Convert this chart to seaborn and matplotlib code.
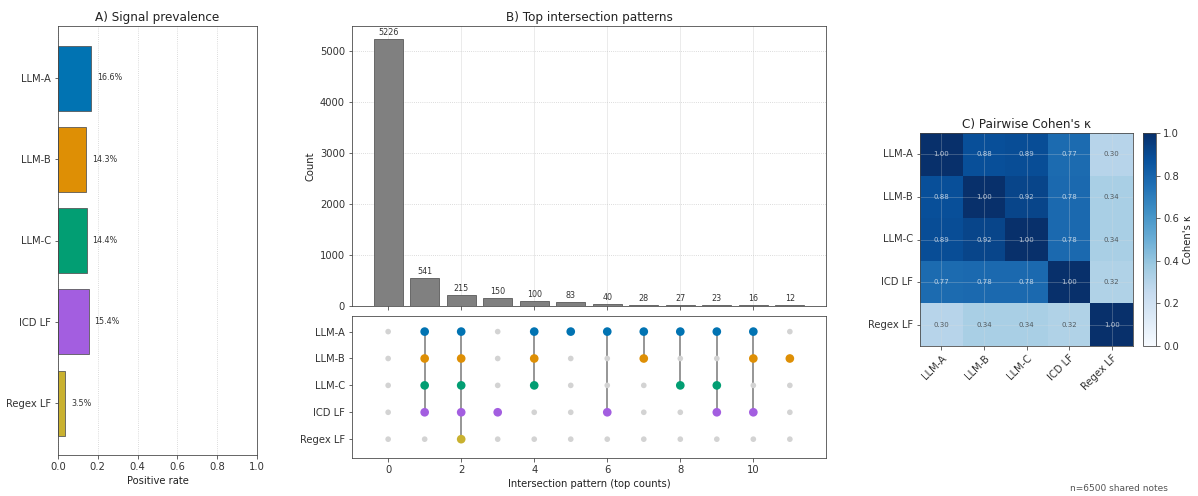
import numpy as np
import pandas as pd
import matplotlib
matplotlib.use("Agg")
import matplotlib.pyplot as plt
import seaborn as sns

# ---data---
signals = ["LLM-A", "LLM-B", "LLM-C", "ICD LF", "Regex LF"]
colors = ["#0173b2", "#de8f05", "#029e73", "#a35ee0", "#c9b12f"]
pos_rate = [0.166, 0.143, 0.144, 0.154, 0.035]

# top intersection patterns: counts and membership (rows = signals)
pattern_counts = [5226, 541, 215, 150, 100, 83, 40, 28, 27, 23, 16, 12]
pattern_members = [
    [],
    ["LLM-A", "LLM-B", "LLM-C", "ICD LF"],
    ["LLM-A", "LLM-B", "LLM-C", "ICD LF", "Regex LF"],
    ["ICD LF"],
    ["LLM-A", "LLM-B", "LLM-C"],
    ["LLM-A"],
    ["LLM-A", "ICD LF"],
    ["LLM-A", "LLM-B"],
    ["LLM-A", "LLM-C"],
    ["LLM-A", "LLM-C", "ICD LF"],
    ["LLM-A", "LLM-B", "ICD LF"],
    ["LLM-B"],
]

kappa = [
    [1.00, 0.88, 0.89, 0.77, 0.30],
    [0.88, 1.00, 0.92, 0.78, 0.34],
    [0.89, 0.92, 1.00, 0.78, 0.34],
    [0.77, 0.78, 0.78, 1.00, 0.32],
    [0.30, 0.34, 0.34, 0.32, 1.00],
]
n_notes = 6500

plt.rcParams.update({
    "font.family": "DejaVu Sans",
    "font.size": 10,
    "axes.edgecolor": "#444444",
    "axes.titlesize": 12,
    "axes.labelsize": 10,
    "xtick.labelsize": 10,
    "ytick.labelsize": 10,
    "xtick.color": "#444444",
    "ytick.color": "#444444",
    "xtick.labelcolor": "#333333",
    "ytick.labelcolor": "#333333",
    "text.color": "#222222",
    "axes.labelcolor": "#222222",
})

# pixel sized figure (72 dpi so point sizes == pixels)
W, H = 1198, 496
fig = plt.figure(figsize=(W / 72, H / 72), dpi=72)

def px_axes(x0, y0, x1, y1):
    return fig.add_axes([x0 / W, 1 - y1 / H, (x1 - x0) / W, (y1 - y0) / H])

#---Panel A: prevalence---
axA = px_axes(58, 26, 257, 455)
dfA = pd.DataFrame({"signal": signals, "rate": pos_rate})
sns.barplot(data=dfA, y="signal", x="rate", hue="signal", palette=colors, saturation=1,
            edgecolor="#555555", linewidth=0.8, width=0.8, legend=False, ax=axA)
for i, r in enumerate(pos_rate):
    axA.text(r + 0.03, i, f"{r*100:.1f}%", va="center", ha="left", fontsize=8, color="#333333")
axA.set_xlim(0, 1)
axA.set_ylim(4.64, -0.64)
axA.set_xlabel("Positive rate")
axA.set_ylabel("")
axA.set_title("A) Signal prevalence", pad=5)
axA.xaxis.grid(True, linestyle=":", color="#cccccc", linewidth=0.8)
axA.set_axisbelow(True)

#---Panel B: intersection bars---
axB = px_axes(352, 26, 826, 306)
axM = px_axes(352, 316, 826, 458)
npat = len(pattern_counts)
xs = np.arange(npat)
axB.bar(xs, pattern_counts, width=0.8, color="#808080", edgecolor="#555555", linewidth=0.8)
for x, c in zip(xs, pattern_counts):
    axB.text(x, c + 40, str(c), ha="center", va="bottom", fontsize=8, color="#333333")
axB.set_xlim(-0.99, 11.99)
axB.set_ylim(0, 5480)
axB.set_xticks(range(0, 11, 2))
axB.set_xticklabels([])
axB.set_ylabel("Count")
axB.set_title("B) Top intersection patterns", pad=5)
axB.yaxis.grid(True, linestyle=":", color="#cccccc", linewidth=0.8)
axB.xaxis.grid(True, color="#e6e6e6", linewidth=0.8)
axB.set_axisbelow(True)

# dot matrix
rows = []
for j, members in enumerate(pattern_members):
    for i, s in enumerate(signals):
        rows.append({"pattern": j, "row": i, "signal": s, "on": s in members})
dfM = pd.DataFrame(rows)
off = dfM[~dfM["on"]]
on = dfM[dfM["on"]]
for j, members in enumerate(pattern_members):
    idx = [signals.index(s) for s in members]
    if len(idx) > 1:
        axM.plot([j, j], [min(idx), max(idx)], color="#777777", linewidth=1.5, zorder=1)
sns.scatterplot(data=off, x="pattern", y="row", color="#d3d3d3", s=32, edgecolor="none",
                ax=axM, zorder=2)
sns.scatterplot(data=on, x="pattern", y="row", hue="signal", hue_order=signals, palette=colors,
                s=75, edgecolor="none", legend=False, ax=axM, zorder=3)
axM.set_xlim(-0.99, 11.99)
axM.set_ylim(4.7, -0.58)
axM.set_yticks(range(len(signals)))
axM.set_yticklabels(signals)
axM.set_xticks(range(0, 11, 2))
axM.set_xlabel("Intersection pattern (top counts)")
axM.set_ylabel("")

#---Panel C: kappa heatmap---
axC = px_axes(920, 133, 1133, 346)
cax = px_axes(1143, 133, 1156, 346)
dfK = pd.DataFrame(kappa, index=signals, columns=signals)
sns.heatmap(dfK, ax=axC, cbar_ax=cax, cmap="Blues", vmin=0, vmax=1, annot=True, fmt=".2f",
            annot_kws={"fontsize": 7}, cbar_kws={"label": "Cohen's κ"})
for t in axC.texts:
    t.set_alpha(0.7)
axC.set_title("C) Pairwise Cohen's κ", pad=5)
axC.set_xticklabels(signals, rotation=45, ha="right", rotation_mode="anchor")
axC.set_yticklabels(signals, rotation=0)
axC.tick_params(length=3.5, width=0.8)
axC.grid(True, color="#dddddd", alpha=0.3, linewidth=0.8)
for sp in axC.spines.values():
    sp.set_visible(True)
    sp.set_color("#444444")
cb = axC.collections[0].colorbar
cb.outline.set_linewidth(0.8)
cb.outline.set_edgecolor("#444444")
cb.set_ticks([0, 0.2, 0.4, 0.6, 0.8, 1.0])

fig.text(1168 / W, 1 - 491 / H, f"n={n_notes} shared notes", ha="right", va="baseline",
         fontsize=9, color="#555555")

fig.savefig("out.png", dpi=72)
